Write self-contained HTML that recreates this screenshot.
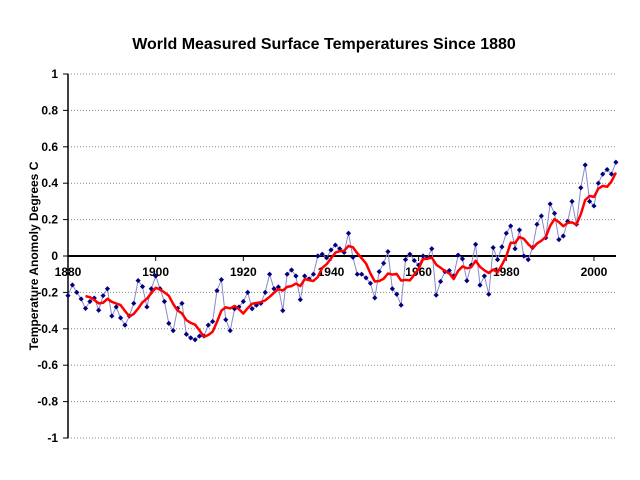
<!DOCTYPE html>
<html><head><meta charset="utf-8"><style>
html,body{margin:0;padding:0;background:#fff;}
svg{display:block;font-family:"Liberation Sans",Arial,sans-serif;}
</style></head><body>
<svg id="c" width="640" height="480" xmlns="http://www.w3.org/2000/svg">
<rect width="640" height="480" fill="#fff"/>
<text x="324" y="49" text-anchor="middle" font-size="16" font-weight="bold">World Measured Surface Temperatures Since 1880</text>
<text transform="translate(38,256) rotate(-90)" text-anchor="middle" font-size="12" font-weight="bold">Temperature Anomoly Degrees C</text>
<g id="g"></g>
</svg>
<script>
var d=[-0.218,-0.159,-0.20,-0.236,-0.288,-0.25,-0.231,-0.298,-0.218,-0.18,
-0.33,-0.28,-0.34,-0.38,-0.33,-0.26,-0.135,-0.168,-0.28,-0.18,
-0.11,-0.18,-0.25,-0.37,-0.41,-0.288,-0.26,-0.43,-0.45,-0.46,
-0.44,-0.44,-0.38,-0.36,-0.19,-0.13,-0.35,-0.41,-0.29,-0.28,
-0.25,-0.20,-0.29,-0.27,-0.26,-0.20,-0.10,-0.18,-0.17,-0.30,
-0.10,-0.077,-0.11,-0.24,-0.11,-0.126,-0.10,0.00,0.01,-0.01,
0.033,0.06,0.04,0.02,0.125,-0.007,-0.10,-0.10,-0.12,-0.15,
-0.23,-0.086,-0.04,0.024,-0.18,-0.21,-0.27,-0.02,0.01,-0.025,
-0.05,0.0,-0.01,0.04,-0.215,-0.14,-0.086,-0.08,-0.11,0.005,
-0.016,-0.136,-0.05,0.064,-0.16,-0.11,-0.21,0.046,-0.02,0.05,
0.125,0.165,0.04,0.143,0.0,-0.02,0.046,0.174,0.22,0.10,
0.286,0.234,0.09,0.11,0.19,0.30,0.174,0.375,0.50,0.30,
0.275,0.40,0.45,0.475,0.45,0.515];
var g=document.getElementById('g'),s='';
function X(y){return 68+(y-1880)*4.383;}
function Y(v){return 256-v*182;}
for(var i=0;i<=10;i++){var v=1-i*0.2,y=Y(v);
 if(Math.abs(v)>1e-6) s+='<line x1="68" x2="616" y1="'+y+'" y2="'+y+'" stroke="#888" stroke-width="1" stroke-dasharray="1,2"/>';
 s+='<line x1="63" x2="68" y1="'+y+'" y2="'+y+'" stroke="#000"/>';
 var lab=Math.abs(v)<1e-6?'0':(Math.round(v*10)/10).toString();
 s+='<text x="58" y="'+(y+4)+'" text-anchor="end" font-size="12" font-weight="bold">'+lab+'</text>';}
s+='<line x1="68" x2="68" y1="74" y2="438" stroke="#000" stroke-width="1.5"/>';
s+='<line x1="68" x2="616" y1="256" y2="256" stroke="#000" stroke-width="2"/>';
for(var yr=1880;yr<=2000;yr+=20){var x=X(yr);
 s+='<line x1="'+x+'" x2="'+x+'" y1="256" y2="261" stroke="#000"/>';
 s+='<text x="'+x+'" y="276" text-anchor="middle" font-size="12" font-weight="bold">'+yr+'</text>';}
var p='';for(var i=0;i<d.length;i++)p+=X(1880+i).toFixed(1)+','+Y(d[i]).toFixed(1)+' ';
s+='<polyline points="'+p+'" fill="none" stroke="#8888cc" stroke-width="1"/>';
for(var i=0;i<d.length;i++){var x=X(1880+i),y=Y(d[i]);
 s+='<polygon points="'+x+','+(y-2.6)+' '+(x+2.6)+','+y+' '+x+','+(y+2.6)+' '+(x-2.6)+','+y+'" fill="#000080"/>';}
var q='';for(var i=4;i<d.length;i++){var m=(d[i]+d[i-1]+d[i-2]+d[i-3]+d[i-4])/5;q+=X(1880+i).toFixed(1)+','+Y(m).toFixed(1)+' ';}
s+='<polyline points="'+q+'" fill="none" stroke="#ff0000" stroke-width="2.5" stroke-linejoin="round"/>';
g.innerHTML=s;
</script>
</body></html>
